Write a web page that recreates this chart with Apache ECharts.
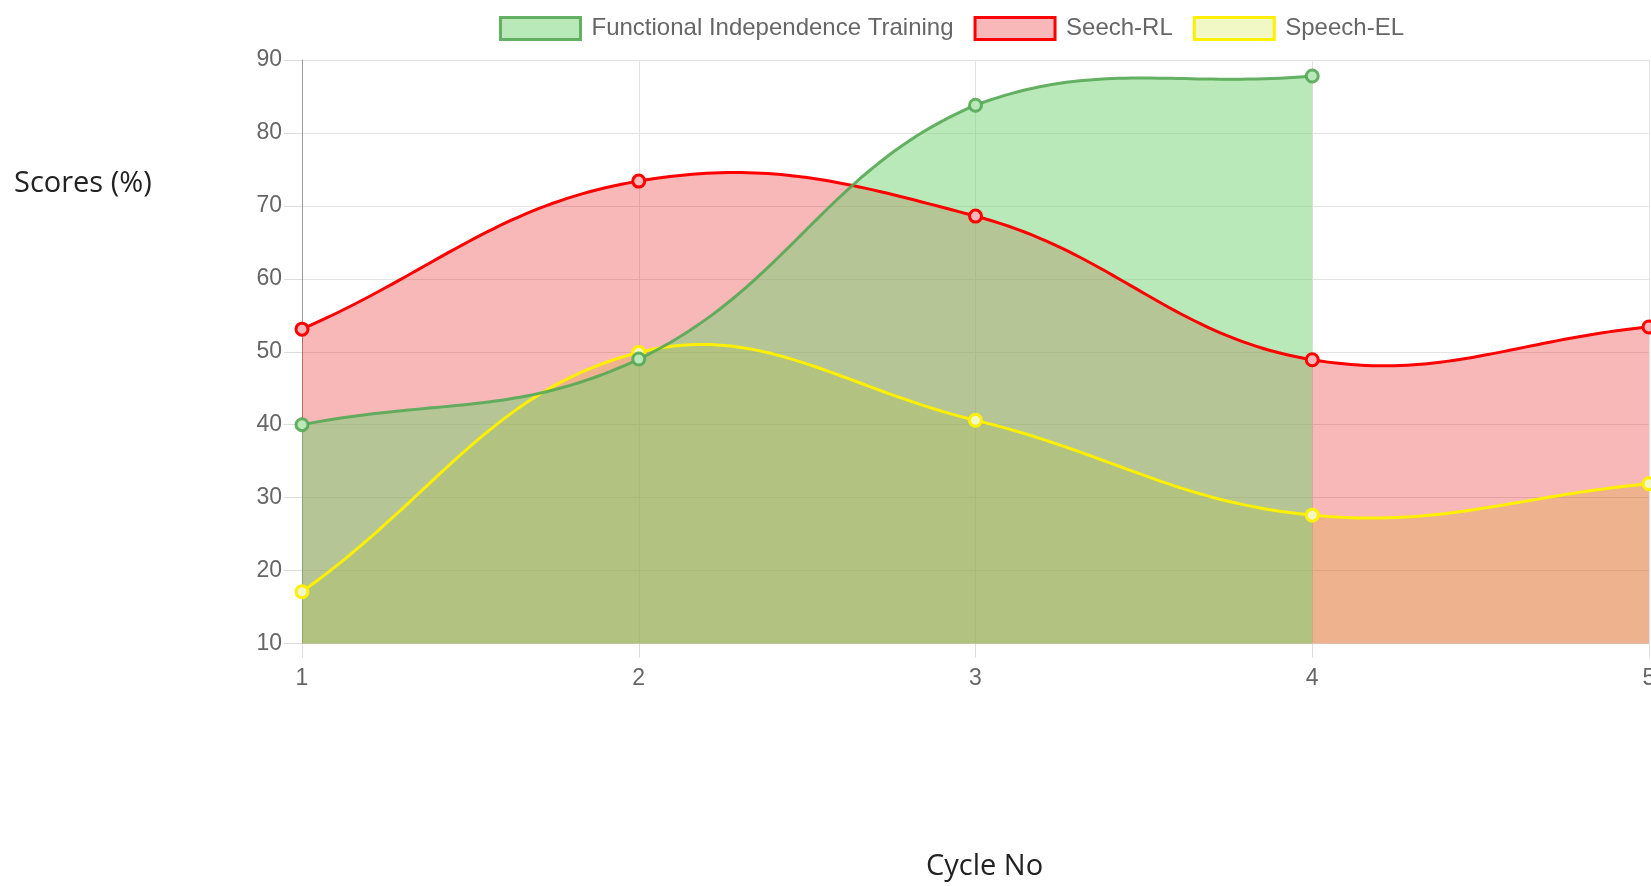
<!DOCTYPE html>
<html>
<head>
<meta charset="utf-8">
<script src="https://cdn.jsdelivr.net/npm/echarts@6/dist/echarts.min.js"></script>
<style>
html,body{margin:0;padding:0;background:#fff;}
#chart{width:1651px;height:886px;}
</style>
</head>
<body>
<div id="chart"></div>
<script>
const categories = ['1', '2', '3', '4', '5'];
const seriesNames = ['Functional Independence Training', 'Seech-RL', 'Speech-EL'];
const fitValues = [40, 49, 83.8, 87.8, null];
const rlValues = [53.1, 73.4, 68.6, 48.9, 53.4];
const elValues = [17.1, 49.9, 40.6, 27.6, 31.9];
const yTicks = { min: 10, max: 90, interval: 10 };

const values = [fitValues, rlValues, elValues];
const lineColors = ['rgba(85,168,85,0.9)', 'rgb(255,0,0)', 'rgb(255,240,0)'];
const fillColors = ['rgba(115,209,115,0.5)', 'rgba(230,0,0,0.28)', 'rgba(205,225,40,0.27)'];
const pointFills = ['rgb(185,232,185)', 'rgb(248,184,185)', 'rgb(241,247,197)'];
const lineWidths = [3, 3, 3];
const TENSION = 0.4;

// Chart.js-style cardinal spline through the points, computed in pixel space from the axes
function splineRuns(api, params, vals) {
  const cs = params.coordSys;
  const left = cs.x, right = cs.x + cs.width, top = cs.y, bottom = cs.y + cs.height;
  const runs = [];
  let cur = [];
  vals.forEach((v, i) => {
    if (v == null) { if (cur.length) runs.push(cur); cur = []; }
    else { const p = api.coord([i, v]); cur.push({ x: p[0], y: p[1], i: i }); }
  });
  if (cur.length) runs.push(cur);
  const clampX = x => Math.max(left, Math.min(right, x));
  const clampY = y => Math.max(top, Math.min(bottom, y));
  return runs.map(run => {
    const cps = run.map((p, k) => {
      const prev = run[k - 1] || p, next = run[k + 1] || p;
      const d01 = Math.hypot(p.x - prev.x, p.y - prev.y);
      const d12 = Math.hypot(next.x - p.x, next.y - p.y);
      let s01 = d01 / (d01 + d12), s12 = d12 / (d01 + d12);
      if (isNaN(s01)) s01 = 0; if (isNaN(s12)) s12 = 0;
      const fa = TENSION * s01, fb = TENSION * s12;
      return {
        px: clampX(p.x - fa * (next.x - prev.x)), py: clampY(p.y - fa * (next.y - prev.y)),
        nx: clampX(p.x + fb * (next.x - prev.x)), ny: clampY(p.y + fb * (next.y - prev.y))
      };
    });
    const pts = [[run[0].x, run[0].y]];
    for (let k = 0; k < run.length - 1; k++) {
      const a = run[k], b = run[k + 1], ca = cps[k], cb = cps[k + 1];
      const N = 48;
      for (let s = 1; s <= N; s++) {
        const t = s / N, u = 1 - t;
        const x = u*u*u*a.x + 3*u*u*t*ca.nx + 3*u*t*t*cb.px + t*t*t*b.x;
        const y = u*u*u*a.y + 3*u*u*t*ca.ny + 3*u*t*t*cb.py + t*t*t*b.y;
        pts.push([x, y]);
      }
    }
    return { pts: pts, first: run[0].i, last: run[run.length - 1].i };
  });
}

function areaSeries(idx, z) {
  const vals = values[idx];
  return {
    name: seriesNames[idx],
    type: 'custom',
    z: z,
    silent: true,
    data: vals.map((v, i) => [i, v]),
    renderItem: function (params, api) {
      if (params.dataIndex !== 0) return;
      const runs = splineRuns(api, params, vals);
      return {
        type: 'group',
        children: runs.map(r => {
          const bR = api.coord([r.last, yTicks.min]);
          const bL = api.coord([r.first, yTicks.min]);
          return {
            type: 'polygon',
            shape: { points: r.pts.concat([bR, bL]) },
            style: { fill: fillColors[idx], stroke: null }
          };
        })
      };
    }
  };
}

function lineSeries(idx, z) {
  const vals = values[idx];
  return {
    name: seriesNames[idx],
    type: 'custom',
    z: z,
    silent: true,
    data: vals.map((v, i) => [i, v]),
    renderItem: function (params, api) {
      if (params.dataIndex !== 0) return;
      const runs = splineRuns(api, params, vals);
      return {
        type: 'group',
        children: runs.map(r => ({
          type: 'polyline',
          shape: { points: r.pts },
          style: { stroke: lineColors[idx], lineWidth: lineWidths[idx], fill: null, lineJoin: 'round', lineCap: 'round' }
        }))
      };
    }
  };
}

function pointSeries(idx, z) {
  return {
    name: seriesNames[idx],
    type: 'scatter',
    z: z,
    silent: true,
    data: values[idx].map((v, i) => v == null ? null : [i, v]).filter(d => d),
    symbol: 'circle',
    symbolSize: 12,
    itemStyle: { color: pointFills[idx], borderColor: lineColors[idx], borderWidth: 3, opacity: 1 },
    emphasis: { disabled: true }
  };
}

const chart = echarts.init(document.getElementById('chart'), null, { renderer: 'canvas' });

chart.setOption({
  animation: false,
  backgroundColor: '#fff',
  textStyle: { fontFamily: 'Liberation Sans, Arial, sans-serif' },
  legend: {
    left: 499,
    top: 16,
    padding: 0,
    itemWidth: 80,
    itemHeight: 22,
    itemGap: 20,
    icon: 'rect',
    textStyle: { fontSize: 24, color: '#666', fontFamily: 'Liberation Sans, Arial, sans-serif', padding: [0, 0, 0, 6] },
    data: seriesNames.map((n, i) => ({
      name: n,
      itemStyle: { color: pointFills[i], borderColor: lineColors[i], borderWidth: 3 }
    }))
  },
  grid: { left: 302, right: 2, top: 60, bottom: 242.5, containLabel: false, outerBoundsMode: 'none' },
  xAxis: {
    type: 'category',
    data: categories,
    boundaryGap: false,
    axisLine: { show: true, lineStyle: { color: '#ddd', width: 1 } },
    axisTick: { show: true, length: 14, lineStyle: { color: '#ddd' } },
    axisLabel: { fontSize: 23, color: '#666', margin: 24, fontFamily: 'Liberation Sans, Arial, sans-serif' },
    splitLine: { show: true, lineStyle: { color: '#e3e3e3', width: 1 } }
  },
  yAxis: {
    type: 'value',
    min: yTicks.min,
    max: yTicks.max,
    interval: yTicks.interval,
    axisLine: { show: true, lineStyle: { color: '#999', width: 1 } },
    axisTick: { show: true, length: 18, lineStyle: { color: '#ddd' } },
    axisLabel: { fontSize: 23, color: '#666', margin: 20, fontFamily: 'Liberation Sans, Arial, sans-serif' },
    splitLine: { show: true, lineStyle: { color: '#e3e3e3', width: 1 } }
  },
  graphic: [
    { type: 'text', left: 14, top: 169, style: { text: 'Scores (%)', fontSize: 29, fill: '#222', fontFamily: 'Open Sans, Noto Sans, sans-serif' } },
    { type: 'text', left: 926, top: 852, style: { text: 'Cycle No', fontSize: 29, fill: '#222', fontFamily: 'Open Sans, Noto Sans, sans-serif' } }
  ],
  series: [
    areaSeries(2, 1), areaSeries(1, 2), areaSeries(0, 3),
    lineSeries(2, 10), pointSeries(2, 11),
    lineSeries(1, 12), pointSeries(1, 13),
    lineSeries(0, 14), pointSeries(0, 15)
  ]
});
</script>
</body>
</html>
